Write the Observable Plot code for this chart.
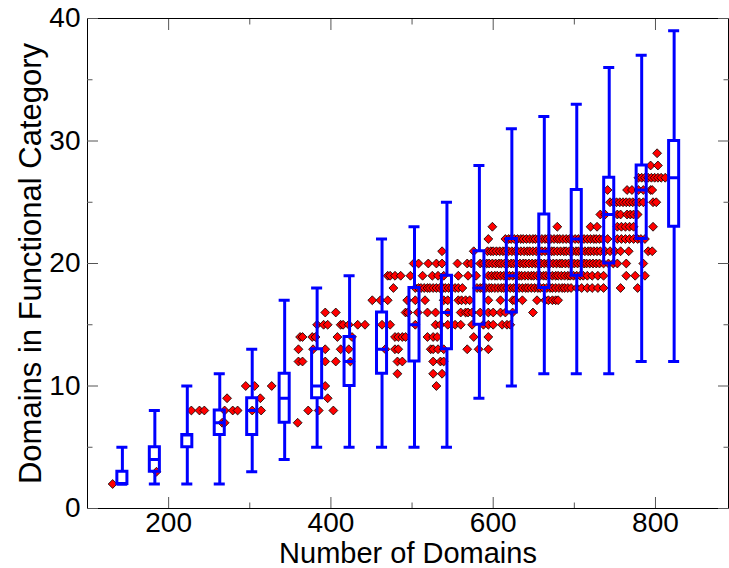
<!DOCTYPE html>
<html><head><meta charset="utf-8">
<script src="https://cdn.jsdelivr.net/npm/d3@7"></script>
<script src="https://cdn.jsdelivr.net/npm/@observablehq/plot@0.6"></script>
<style>body{margin:0;background:#fff}#chart svg{display:block}</style>
</head><body><div id="chart"></div>
<script>
// Box plot summaries (x = number of domains bin centre)
const boxX       = [143,183,223,263,303,343,383,423,463,503,543,583,623,663,703,743,783,823];
const whiskerLo  = [2,2,2,2,3,4,5,5,5,5,5,9,10,11,11,11,12,12];
const q1         = [2,3,5,6,6,7,9,10,11,12,13,15,16,18,19,20,22,23];
const median     = [2,4,6,7,8,9,10,12,13,15,16,18,19,21,22,24,26,27];
const q3         = [3,5,6,8,9,11,13,14,16,18,19,21,22,24,26,27,28,30];
const whiskerHi  = [5,8,10,11,13,17,18,19,22,23,25,28,31,32,33,36,37,39];

// Individual genomes: y value of each row and the x values in that row
const rowY = [2,3,7,8,9,10,11,12,13,14,15,16,17,18,19,20,21,22,23,24,25,26,27,28,29];
const rowX = [
  [131],
  [185],
  [266,269,359],
  [228,238,244,269,279,285,303,314,372,385,403],
  [272,313,396],
  [295,306,327,393,530],
  [482,526,537],
  [360,365,393,406,424,482,488,526,535,539],
  [360,378,393,412,422,467,479,483,523,526,532,539,568,582,594],
  [362,365,377,381,408,426,479,483,488,492,519,526,531,576,594],
  [383,391,396,412,415,422,433,442,463,473,504,529,535,544,553,560,574,588,594,600,611,617,621],
  [393,406,492,495,507,519,529,544,560,566,569,574,584,594,600,609,615,624,649],
  [451,461,470,494,504,516,539,544,557,561,566,571,594,609,624,627,636,654,664,668,673,677,680],
  [477,504,508,511,515,519,522,526,530,534,538,541,545,549,553,557,562,580,584,587,591,595,598,602,606,610,613,617,621,625,628,632,636,640,643,647,651,655,658,662,666,670,673,677,681,685,688,692,696,703,709,716,722,729,736,757,778],
  [470,473,479,486,498,513,525,532,539,557,569,579,594,598,602,605,609,613,617,620,624,628,632,635,639,643,647,650,654,658,662,665,669,673,677,680,684,688,692,695,699,703,707,711,716,722,729,736,764,775,787],
  [502,508,520,530,537,556,568,573,584,588,592,595,599,603,607,610,614,618,622,625,629,633,637,640,644,648,652,655,659,663,667,670,674,678,682,685,689,693,697,700,704,708,712,715,719,723,727,731,736,742,748,753,764,785],
  [537,576,593,597,600,604,608,612,615,619,623,627,630,634,638,642,645,649,653,657,660,664,668,672,675,679,683,687,690,694,698,702,705,709,713,717,720,724,728,732,738,744,750,757,767,791,796],
  [594,615,619,622,626,630,634,637,641,645,649,652,656,660,664,667,671,675,679,682,686,690,694,697,701,705,709,712,716,720,724,727,731,735,741,753,758,763,768,773,778,782,787],
  [599,679,720,728,753,758,763,768,773,797],
  [732,738,753,757,765,769,773,778],
  [744,748,752,756,760,764,768,772,776,780,785,797,801],
  [741,765,771,779,785,794,796],
  [779,783,787,791,795,799,803,807,812],
  [794,803],
  [802]
];

const xTicks = [200,400,600,800];
const xMinor = [300,500,700];
const yTicks = [0,10,20,30,40];
const yMinor = [5,15,25,35];

const points = rowY.flatMap((y, i) => rowX[i].map(x => ({x, y})));
const boxes = boxX.map((x, i) => ({x, lo: whiskerLo[i], q1: q1[i], med: median[i], q3: q3[i], hi: whiskerHi[i]}));

const BOX = 6.2, CAP = 6.8;
const blue = "#0000ff";
const font = "'Liberation Sans', Arial, Helvetica, sans-serif";
const FS = 28, TFS = 29, YFS = 31;
const tickColor = "#555";
const noText = () => "";

const chart = Plot.plot({
  width: 729, height: 568,
  marginLeft: 87, marginRight: 1, marginTop: 18, marginBottom: 60,
  x: {domain: [100, 890]},
  y: {domain: [0, 40]},
  style: {fontFamily: font, background: "white", color: "black"},
  marks: [
    Plot.dot(points, {x: "x", y: "y", symbol: "diamond2", r: 4, fill: "#ff0000", stroke: "black", strokeWidth: 0.8}),
    Plot.ruleX(boxes, {x: "x", y1: "lo", y2: "q1", stroke: blue, strokeWidth: 3}),
    Plot.ruleX(boxes, {x: "x", y1: "q3", y2: "hi", stroke: blue, strokeWidth: 3}),
    Plot.rect(boxes, {x1: d => d.x - BOX, x2: d => d.x + BOX, y1: "q1", y2: "q3", fill: "none", stroke: blue, strokeWidth: 3}),
    Plot.ruleY(boxes, {y: "med", x1: d => d.x - BOX, x2: d => d.x + BOX, stroke: blue, strokeWidth: 3}),
    Plot.ruleY(boxes, {y: "lo", x1: d => d.x - CAP, x2: d => d.x + CAP, stroke: blue, strokeWidth: 3}),
    Plot.ruleY(boxes, {y: "hi", x1: d => d.x - CAP, x2: d => d.x + CAP, stroke: blue, strokeWidth: 3}),
    Plot.frame({stroke: "black"}),
    // tick labels
    Plot.axisX({anchor: "bottom", ticks: xTicks, tickSize: 0, tickPadding: 4, fontSize: FS, label: null, tickFormat: d => String(d)}),
    Plot.axisY({anchor: "left", ticks: yTicks, tickSize: 0, tickPadding: 7, fontSize: FS, label: null, tickFormat: d => String(d)}),
    // inward ticks, all four sides
    Plot.axisX({anchor: "bottom", ticks: xTicks, tickSize: -11, label: null, tickFormat: noText, stroke: tickColor}),
    Plot.axisX({anchor: "bottom", ticks: xMinor, tickSize: -5.5, label: null, tickFormat: noText, stroke: tickColor}),
    Plot.axisX({anchor: "top", ticks: xTicks, tickSize: -11, label: null, tickFormat: noText, stroke: tickColor}),
    Plot.axisX({anchor: "top", ticks: xMinor, tickSize: -5.5, label: null, tickFormat: noText, stroke: tickColor}),
    Plot.axisY({anchor: "left", ticks: yTicks, tickSize: -11, label: null, tickFormat: noText, stroke: tickColor}),
    Plot.axisY({anchor: "left", ticks: yMinor, tickSize: -5.5, label: null, tickFormat: noText, stroke: tickColor}),
    Plot.axisY({anchor: "right", ticks: yTicks, tickSize: -11, label: null, tickFormat: noText, stroke: tickColor}),
    Plot.axisY({anchor: "right", ticks: yMinor, tickSize: -5.5, label: null, tickFormat: noText, stroke: tickColor}),
    // axis titles
    Plot.text(["Number of Domains"], {text: d => d, frameAnchor: "bottom", dy: 45.5, fontSize: TFS, textAnchor: "middle", lineAnchor: "middle", fill: "black"}),
    Plot.text(["Domains in Functional Category"], {text: d => d, frameAnchor: "left", dx: -56, rotate: -90, fontSize: YFS, textAnchor: "middle", lineAnchor: "middle", fill: "black"})
  ]
});
document.getElementById("chart").appendChild(chart);
</script>
</body></html>
